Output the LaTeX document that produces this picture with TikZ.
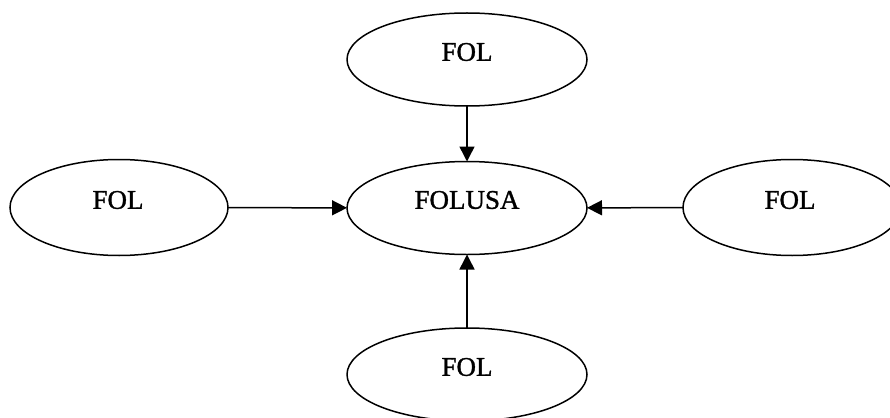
\documentclass[tikz,border=0pt]{standalone}
\usepackage{fontspec}
\setmainfont{Liberation Serif}
\newfontfamily\lblfont[FakeBold=1.2]{Liberation Serif}
\usetikzlibrary{shapes.geometric,arrows.meta}
\begin{document}
\begin{tikzpicture}[x=1pt,y=-1pt,
  ell/.style={draw=black,line width=1.5pt,ellipse,inner sep=0pt,outer sep=0pt},
  bigell/.style={ell,minimum width=240pt,minimum height=93pt},
  sideell/.style={ell,minimum width=218pt,minimum height=96pt},
  lbl/.style={font=\lblfont\fontsize{27}{30}\selectfont,inner sep=0pt},
  arr/.style={line width=1.5pt,-{Triangle[length=15pt,width=15pt]}}]
\useasboundingbox (0,0) rectangle (890,417);
\clip (0,0) rectangle (890,417);
\node[bigell] (t) at (467,59.5) {};
\node[bigell] (c) at (467,208) {};
\node[bigell] (b) at (467,374.5) {};
\node[sideell] (l) at (119,207.5) {};
\node[sideell] (r) at (792,207.5) {};
\node[lbl] (tt) at (467,52) {FOL};
\node[lbl] (ct) at (467,200) {FOLUSA};
\node[lbl] (bt) at (467,367) {FOL};
\node[lbl] (lt) at (118,200) {FOL};
\node[lbl] (rt) at (790,200) {FOL};
\draw[arr] (t) -- (c);
\draw[arr] (b) -- (c);
\draw[arr] (l) -- (c);
\draw[arr] (r) -- (c);
\end{tikzpicture}
\end{document}
